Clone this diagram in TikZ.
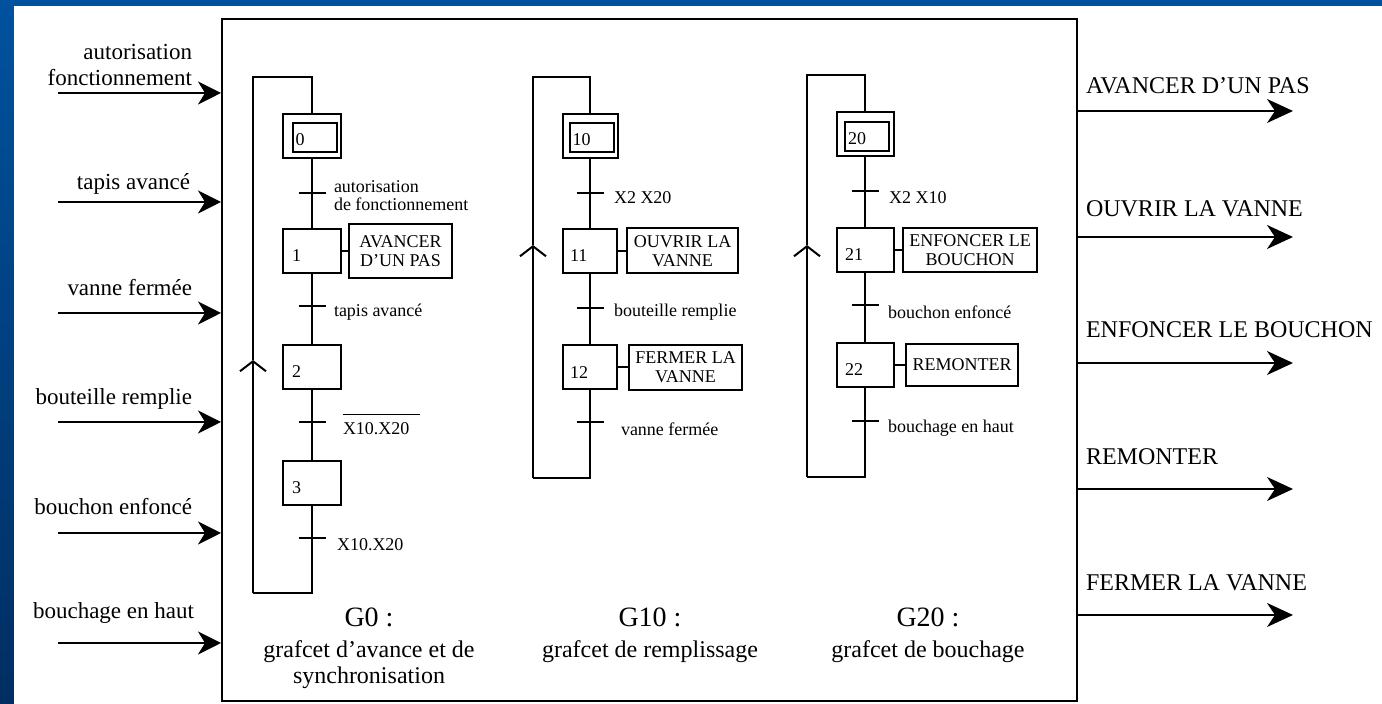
\documentclass[tikz,border=0pt]{standalone}
\usepackage{fontspec}
\setmainfont{Liberation Serif}
\usepackage{tikz}
\usetikzlibrary{arrows.meta,positioning,calc}
\definecolor{slideblue}{RGB}{0,82,158}
\definecolor{slidedark}{RGB}{0,46,98}

\begin{document}
\begin{tikzpicture}[
    x=0.5pt, y=-0.5pt,
    line width=1pt,
    >={Stealth[length=11.5pt,width=11.5pt,inset=3.5pt]},
    outarrow/.style={-{Stealth[length=13pt,width=12pt,inset=4pt]}},
    barb/.style={-{Straight Barb[length=5pt,width=13pt]}},
    stepbox/.style={draw, minimum width=29pt, minimum height=22pt, inner sep=2pt,
        text width=20pt, align=left, text height=11pt, text depth=0pt,
        font=\fontsize{9}{10}\selectfont},
    initstep/.style={draw, minimum width=29pt, minimum height=22pt, inner sep=0pt},
    initin/.style={draw, minimum width=22pt, minimum height=14.5pt, inner sep=0pt,
        text width=19pt, align=left, text height=8pt, text depth=0pt,
        font=\fontsize{9}{10}\selectfont},
    action/.style={draw, align=center, inner sep=1pt, font=\fontsize{9}{9.5}\selectfont},
    trans/.style={minimum width=12.5pt, minimum height=0pt, inner sep=0pt},
    tlab/.style={anchor=west, inner sep=0pt, align=left, font=\fontsize{9}{9}\selectfont},
    inlab/.style={anchor=base east, inner sep=0pt, align=right, font=\fontsize{11.5}{13}\selectfont},
    outlab/.style={anchor=base west, inner sep=0pt, font=\fontsize{12}{14}\selectfont},
    gname/.style={inner sep=0pt, font=\fontsize{14}{16}\selectfont},
    gtext/.style={inner sep=0pt, align=center, font=\fontsize{12}{13}\selectfont}
]
  % background
  \useasboundingbox (0,0) rectangle (1382,704);
  \shade[top color=slideblue, bottom color=slidedark] (0,0) rectangle (1382,704);
  \fill[white] (14,6) rectangle (1382,704);

  % main box
  \node[draw, minimum width=427.5pt, minimum height=341pt, inner sep=0pt] (box) at (649.5,360) {};

  % inputs
  \coordinate (in1) at (58,93);
  \coordinate (in2) at (58,202);
  \coordinate (in3) at (58,313);
  \coordinate (in4) at (58,422);
  \coordinate (in5) at (58,533);
  \coordinate (in6) at (58,643);
  \node[inlab, anchor=south east] (lin1) at (193,87) {autorisation\\fonctionnement};
  \node[inlab] (lin2) at (191,190) {tapis avancé};
  \node[inlab] (lin3) at (193,296) {vanne fermée};
  \node[inlab] (lin4) at (193,405) {bouteille remplie};
  \node[inlab] (lin5) at (193,515) {bouchon enfoncé};
  \node[inlab] (lin6) at (195,619) {bouchage en haut};

  % outputs
  \coordinate (out1) at (1293,111);
  \coordinate (out2) at (1293,237);
  \coordinate (out3) at (1293,363);
  \coordinate (out4) at (1293,489);
  \coordinate (out5) at (1293,615);
  \node[outlab] (lout1) at (1085,94) {AVANCER D'UN PAS};
  \node[outlab] (lout2) at (1085,217) {OUVRIR LA VANNE};
  \node[outlab] (lout3) at (1085,338) {ENFONCER LE BOUCHON};
  \node[outlab] (lout4) at (1085,465) {REMONTER};
  \node[outlab] (lout5) at (1085,591) {FERMER LA VANNE};

  % G0
  \node[initstep] (s0) at (312,136.5) {};
  \node[initin] (s0in) at (314.5,137.5) {0};
  \node[trans] (t1) at (312,193) {};
  \node[stepbox] (s1) at (312,251) {1};
  \node[action, minimum width=51.5pt, minimum height=27pt] (a1) at (400.5,251) {AVANCER\\D'UN PAS};
  \node[trans] (t2) at (312,306) {};
  \node[stepbox] (s2) at (312,367) {2};
  \node[trans] (t3) at (312,422) {};
  \node[stepbox] (s3) at (312,483) {3};
  \node[trans] (t4) at (312,538) {};
  \coordinate (g0b) at (253,593);
  \coordinate (g0up) at (253,360);
  \coordinate (g0t) at (253,77);
  \node[tlab] (l1) at (333,196) {autorisation\\de fonctionnement};
  \node[tlab] (l2) at (333,312) {tapis avancé};
  \node[tlab] (l3) at (342,424) {$\overline{\mbox{\rule{0pt}{8.5pt}X10.X20}\hspace{5pt}}$};
  \node[tlab] (l4) at (336,545) {X10.X20};

  % G10
  \node[initstep, minimum width=27.5pt] (s10) at (590,136.5) {};
  \node[initin] (s10in) at (591.5,137.5) {10};
  \node[trans] (t11) at (590,193) {};
  \node[stepbox, minimum width=27pt] (s11) at (590,251) {11};
  \node[action, minimum width=55.5pt, minimum height=22.5pt] (a11) at (682.5,251) {OUVRIR LA\\VANNE};
  \node[trans] (t12) at (590,308) {};
  \node[stepbox, minimum width=27pt] (s12) at (590,367.5) {12};
  \node[action, minimum width=56.5pt, minimum height=22.5pt] (a12) at (685.5,367.5) {FERMER LA\\VANNE};
  \node[trans] (t13) at (590,422) {};
  \coordinate (g10b) at (533,478);
  \coordinate (g10up) at (533,245);
  \coordinate (g10t) at (533,77);
  \node[tlab] (l11) at (613,198) {X2 X20};
  \node[tlab] (l12) at (613,312) {bouteille remplie};
  \node[tlab] (l13) at (620,429) {vanne fermée};

  % G20
  \node[initstep, minimum width=28.5pt] (s20) at (865,134.5) {};
  \node[initin] (s20in) at (867,136.5) {20};
  \node[trans] (t21) at (865,191) {};
  \node[stepbox, minimum width=28.5pt] (s21) at (865,250) {21};
  \node[action, minimum width=67pt, minimum height=22pt] (a21) at (970,250) {ENFONCER LE\\BOUCHON};
  \node[trans] (t22) at (865,305) {};
  \node[stepbox, minimum width=28.5pt] (s22) at (865,365) {22};
  \node[action, minimum width=56pt, minimum height=21pt] (a22) at (962,365) {REMONTER};
  \node[trans] (t23) at (865,421) {};
  \coordinate (g20b) at (807,477);
  \coordinate (g20up) at (807,245);
  \coordinate (g20t) at (807,75);
  \node[tlab] (l21) at (888,198) {X2 X10};
  \node[tlab] (l22) at (887,312) {bouchon enfoncé};
  \node[tlab] (l23) at (887,428) {bouchage en haut};

  % captions
  \node[gname] (g0name) at (369,617) {G0 :};
  \node[gtext] (g0text) at (369,665) {grafcet d'avance et de\\synchronisation};
  \node[gname] (g10name) at (650,617) {G10 :};
  \node[gtext] (g10text) at (650,652) {grafcet de remplissage};
  \node[gname] (g20name) at (928,617) {G20 :};
  \node[gtext] (g20text) at (928,652) {grafcet de bouchage};

  % edges
  \draw[->] (in1) -- (in1 -| box.west);
  \draw[->] (in2) -- (in2 -| box.west);
  \draw[->] (in3) -- (in3 -| box.west);
  \draw[->] (in4) -- (in4 -| box.west);
  \draw[->] (in5) -- (in5 -| box.west);
  \draw[->] (in6) -- (in6 -| box.west);
  \draw[outarrow] (out1 -| box.east) -- (out1);
  \draw[outarrow] (out2 -| box.east) -- (out2);
  \draw[outarrow] (out3 -| box.east) -- (out3);
  \draw[outarrow] (out4 -| box.east) -- (out4);
  \draw[outarrow] (out5 -| box.east) -- (out5);

  \draw (s0) -- (s1) -- (s2) -- (s3);
  \draw (s3) |- (g0b);
  \draw[barb] (g0b) -- (g0up);
  \draw (g0up) -- (g0t) -| (s0);
  \draw (s1) -- (a1);

  \draw (s10) -- (s11) -- (s12);
  \draw (s12) |- (g10b);
  \draw[barb] (g10b) -- (g10up);
  \draw (g10up) -- (g10t) -| (s10);
  \draw (s11) -- (a11);
  \draw (s12) -- (a12);

  \draw (s20) -- (s21) -- (s22);
  \draw (s22) |- (g20b);
  \draw[barb] (g20b) -- (g20up);
  \draw (g20up) -- (g20t) -| (s20);
  \draw (s21) -- (a21);
  \draw (s22) -- (a22);

  % transitions
  \draw (t1.west) -- (t1.east) (t2.west) -- (t2.east) (t3.west) -- (t3.east) (t4.west) -- (t4.east);
  \draw (t11.west) -- (t11.east) (t12.west) -- (t12.east) (t13.west) -- (t13.east);
  \draw (t21.west) -- (t21.east) (t22.west) -- (t22.east) (t23.west) -- (t23.east);
\end{tikzpicture}
\end{document}
